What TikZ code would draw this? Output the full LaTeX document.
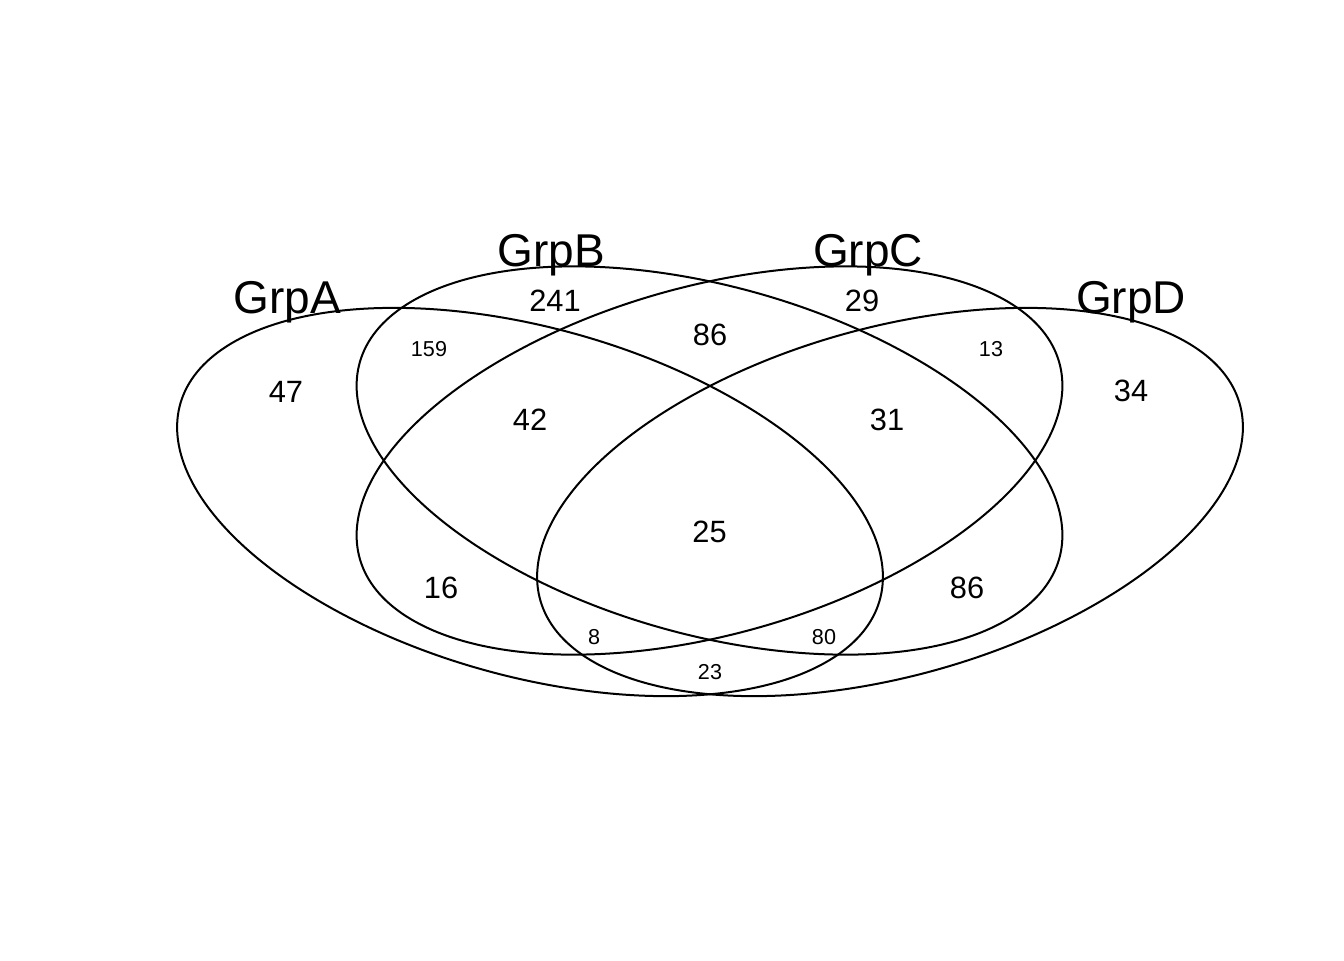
\documentclass[tikz,border=0pt]{standalone}
\usepackage{fontspec}
\setmainfont{Liberation Sans}
\begin{document}
\begin{tikzpicture}[x=0.5pt,y=-0.5pt,
    venn/.style={line width=1pt},
    setname/.style={anchor=base,inner sep=0pt,font=\fontsize{23}{26}\selectfont},
    count/.style={inner sep=0pt,font=\fontsize{15.4}{18}\selectfont},
    smallcount/.style={inner sep=0pt,font=\fontsize{10.8}{13}\selectfont}]
  \useasboundingbox (0,0) rectangle (1344,960);
  % the four sets
  \draw[venn,shift={(530,502)},xscale=2.563,yscale=1.41,rotate=-45](0,0) ellipse [x radius=162,y radius=108];
  \draw[venn,shift={(709.5,460.5)},xscale=2.563,yscale=1.41,rotate=-45](0,0) ellipse [x radius=162,y radius=108];
  \draw[venn,shift={(709.5,460.5)},xscale=2.563,yscale=1.41,rotate=45](0,0) ellipse [x radius=162,y radius=108];
  \draw[venn,shift={(890,502)},xscale=2.563,yscale=1.41,rotate=45](0,0) ellipse [x radius=162,y radius=108];
  % set names
  \node[setname] (nameA) at (287,313) {GrpA};
  \node[setname] (nameB) at (551,266) {GrpB};
  \node[setname] (nameC) at (868,266) {GrpC};
  \node[setname] (nameD) at (1131,313) {GrpD};
  % counts
  \node[count] (onlyA) at (286,392) {47};
  \node[count] (onlyB) at (555,301) {241};
  \node[count] (onlyC) at (862,301) {29};
  \node[count] (onlyD) at (1131,391) {34};
  \node[smallcount] (AB) at (429,349) {159};
  \node[count] (BC) at (710,335) {86};
  \node[smallcount] (CD) at (991,349) {13};
  \node[count] (ABC) at (530,419.5) {42};
  \node[count] (BCD) at (887,419.5) {31};
  \node[count] (ABCD) at (709.5,532) {25};
  \node[count] (AC) at (441,588) {16};
  \node[count] (BD) at (967,588) {86};
  \node[smallcount] (ACD) at (594,637) {8};
  \node[smallcount] (ABD) at (824,637) {80};
  \node[smallcount] (AD) at (710,672) {23};
\end{tikzpicture}
\end{document}
